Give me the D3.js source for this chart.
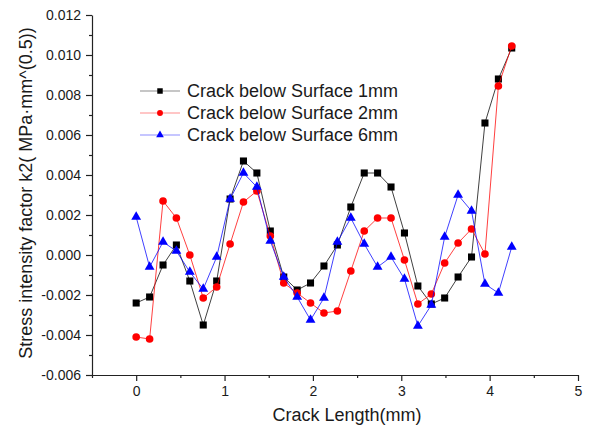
<!DOCTYPE html>
<html>
<head>
<meta charset="utf-8">
<script src="https://cdn.jsdelivr.net/npm/d3@7"></script>
<style>
  body { margin: 0; background: #fff; }
  svg text { font-family: "Liberation Sans", Arial, sans-serif; fill: #1a1a1a; }
</style>
</head>
<body>
<svg id="chart" width="590" height="430"></svg>
<script>
// crack length positions (mm)
const crackLength = [0, 0.152, 0.304, 0.455, 0.607, 0.759, 0.911, 1.063, 1.214, 1.366,
  1.518, 1.670, 1.822, 1.973, 2.125, 2.277, 2.429, 2.581, 2.732, 2.884,
  3.036, 3.188, 3.340, 3.491, 3.643, 3.795, 3.947, 4.099, 4.250];

// k2 values
const k2_1mm = [-0.0024, -0.0021, -0.0005, 0.0005, -0.0013, -0.0035, -0.0013, 0.0028, 0.0047, 0.0041,
  0.0012, -0.0011, -0.00175, -0.0014, -0.00055, 0.0005, 0.0024, 0.0041, 0.0041, 0.0034,
  0.0011, -0.00155, -0.00245, -0.00215, -0.0011, -0.0001, 0.0066, 0.0088, 0.01035];
const k2_2mm = [-0.0041, -0.0042, 0.0027, 0.00185, 0.0000, -0.00215, -0.0016, 0.00055, 0.00265, 0.0032,
  0.00095, -0.0014, -0.0019, -0.0024, -0.0029, -0.0028, -0.0008, 0.0012, 0.00185, 0.00185,
  -0.00025, -0.00245, -0.00195, -0.0004, 0.0006, 0.0013, 0.00005, 0.00845, 0.01045];
const k2_6mm = [0.0019, -0.0006, 0.00065, 0.0002, -0.00085, -0.0017, -0.0001, 0.0028, 0.0041, 0.0034,
  0.0007, -0.0011, -0.0021, -0.00325, -0.00215, 0.00065, 0.00185, 0.00055, -0.0006, -0.0001,
  -0.0012, -0.00355, -0.0025, 0.0009, 0.003, 0.0022, -0.00145, -0.0019, 0.0004];

const seriesNames = ['Crack below Surface 1mm', 'Crack below Surface 2mm', 'Crack below Surface 6mm'];

const xTicks = [0, 1, 2, 3, 4, 5];
const xMinorTicks = [-0.5, 0.5, 1.5, 2.5, 3.5, 4.5];
const yTicks = [-0.006, -0.004, -0.002, 0, 0.002, 0.004, 0.006, 0.008, 0.010, 0.012];
const yTickLabels = ['-0.006', '-0.004', '-0.002', '0.000', '0.002', '0.004', '0.006', '0.008', '0.010', '0.012'];
const yMinorTicks = [-0.005, -0.003, -0.001, 0.001, 0.003, 0.005, 0.007, 0.009, 0.011];

const svg = d3.select('#chart');

const x = d3.scaleLinear().domain([-0.5, 5]).range([92, 578]);
const y = d3.scaleLinear().domain([-0.006, 0.012]).range([375, 15]);

// axes
const xAxis = svg.append('g').attr('transform', 'translate(0,375)')
  .call(d3.axisBottom(x).tickValues(xTicks).tickSize(6).tickSizeOuter(0).tickPadding(5).tickFormat(d3.format('d')));
svg.append('g').attr('transform', 'translate(0,375)')
  .call(d3.axisBottom(x).tickValues(xMinorTicks).tickSize(3).tickFormat(''))
  .select('.domain').remove();

const yAxis = svg.append('g').attr('transform', 'translate(92,0)')
  .call(d3.axisLeft(y).tickValues(yTicks).tickSize(6).tickSizeOuter(0).tickPadding(5)
    .tickFormat((d, i) => yTickLabels[i]));
svg.append('g').attr('transform', 'translate(92,0)')
  .call(d3.axisLeft(y).tickValues(yMinorTicks).tickSize(3).tickFormat(''))
  .select('.domain').remove();

svg.selectAll('.domain, .tick line').attr('stroke', '#222').attr('stroke-width', 1.2);
svg.selectAll('.tick text').attr('font-size', 14).attr('fill', '#1a1a1a')
  .style('font-family', '"Liberation Sans", Arial, sans-serif');

// axis titles
svg.append('text')
  .attr('x', 347).attr('y', 421)
  .attr('text-anchor', 'middle')
  .attr('font-size', 18)
  .text('Crack Length(mm)');

svg.append('text')
  .attr('transform', 'translate(32,193) rotate(-90)')
  .attr('text-anchor', 'middle')
  .attr('font-size', 18)
  .text('Stress intensity factor k2( MPa\u00B7mm^(0.5))');

// series
const series = [
  { name: seriesNames[0], values: k2_1mm, color: '#000000', shape: d3.symbolSquare, size: 50 },
  { name: seriesNames[1], values: k2_2mm, color: '#ff0000', shape: d3.symbolCircle, size: 46 },
  { name: seriesNames[2], values: k2_6mm, color: '#0000ff', shape: d3.symbolTriangle, size: 42 }
];

const line = d3.line().x(d => x(d[0])).y(d => y(d[1]));

series.forEach(s => {
  const pts = crackLength.map((c, i) => [c, s.values[i]]);
  svg.append('path')
    .datum(pts)
    .attr('d', line)
    .attr('fill', 'none')
    .attr('stroke', s.color)
    .attr('stroke-opacity', 0.75)
    .attr('stroke-width', 1);
  svg.selectAll(null)
    .data(pts)
    .enter()
    .append('path')
    .attr('transform', d => `translate(${x(d[0])},${y(d[1])})`)
    .attr('d', d3.symbol().type(s.shape).size(s.size))
    .attr('fill', s.color);
});

// legend
const legend = svg.append('g').attr('transform', 'translate(140,91)');
series.forEach((s, i) => {
  const row = legend.append('g').attr('transform', `translate(0,${i * 22})`);
  row.append('line')
    .attr('x1', 0).attr('x2', 40)
    .attr('stroke', s.color).attr('stroke-opacity', 0.45).attr('stroke-width', 1.2);
  row.append('path')
    .attr('transform', 'translate(20,0)')
    .attr('d', d3.symbol().type(s.shape).size(s.size * 0.6))
    .attr('fill', s.color);
  row.append('text')
    .attr('x', 47).attr('y', 6)
    .attr('font-size', 18)
    .text(s.name);
});
</script>
</body>
</html>
